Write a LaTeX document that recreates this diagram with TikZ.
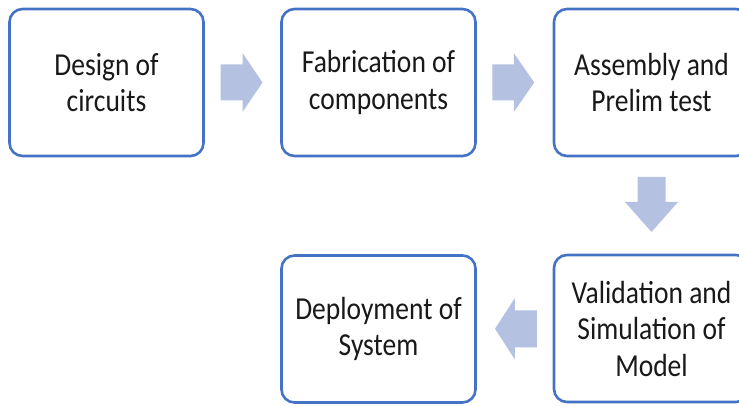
\documentclass[tikz,border=0pt]{standalone}
\usepackage{fontspec}
\setmainfont{Carlito}[FakeStretch=0.86]
\usetikzlibrary{calc}
\definecolor{boxblue}{RGB}{68,114,196}
\definecolor{arrowfill}{RGB}{180,193,225}
\tikzset{
  stepbox/.style={draw=boxblue, line width=2.6pt, rounded corners=13pt,
    fill=white, minimum width=194pt, minimum height=147pt, inner sep=0pt,
    align=center, text=black!90,
    font=\fontsize{32}{36.5}\selectfont},
  blockarrow/.style={fill=arrowfill, draw=none}
}
\begin{document}
\begin{tikzpicture}[x=1pt, y=-1pt]
  \useasboundingbox (0,0) rectangle (739,406);
  \clip (0,0) rectangle (739,406);

  % process steps
  \node[stepbox] (design)   at (106.5,82.5) {Design of\\circuits};
  \node[stepbox] (fab)      at (378.5,82.5) {Fabrication of\\components};
  \node[stepbox, minimum width=195pt] (assembly) at (651.5,82.5) {Assembly and\\Prelim test};
  \node[stepbox, minimum width=195pt] (valid)    at (651.5,328.5) {Validation and\\Simulation of\\Model};
  \node[stepbox] (deploy)   at (378.5,329) {Deployment of\\System};

  % block arrows between the steps
  \coordinate (m1) at ($(design.east)!0.5!(fab.west)$);
  \coordinate (m2) at ($(fab.east)!0.5!(assembly.west)$);
  \coordinate (m3) at ($(assembly.south)!0.5!(valid.north)$);
  \coordinate (m4) at ($(valid.west)!0.5!(deploy.east)$);

  \begin{scope}[shift={(m1)}]
    \fill[blockarrow] (-22,-18) -- (0,-18) -- (0,-29.5) -- (20,0) -- (0,29.5) -- (0,18) -- (-22,18) -- cycle;
  \end{scope}
  \begin{scope}[shift={(m2)}]
    \fill[blockarrow] (-22.5,-18) -- (-1,-18) -- (-1,-29.5) -- (19.5,0) -- (-1,29.5) -- (-1,18) -- (-22.5,18) -- cycle;
  \end{scope}
  \begin{scope}[shift={(m3)}]
    \fill[blockarrow] (-14,-28.5) -- (14,-28.5) -- (14,-3.5) -- (26.5,-3.5) -- (0,26.5) -- (-26.5,-3.5) -- (-14,-3.5) -- cycle;
  \end{scope}
  \begin{scope}[shift={(m4)}]
    \fill[blockarrow] (22,-18.5) -- (0,-18.5) -- (0,-30.5) -- (-19.75,0) -- (0,30.5) -- (0,18.5) -- (22,18.5) -- cycle;
  \end{scope}
\end{tikzpicture}
\end{document}
